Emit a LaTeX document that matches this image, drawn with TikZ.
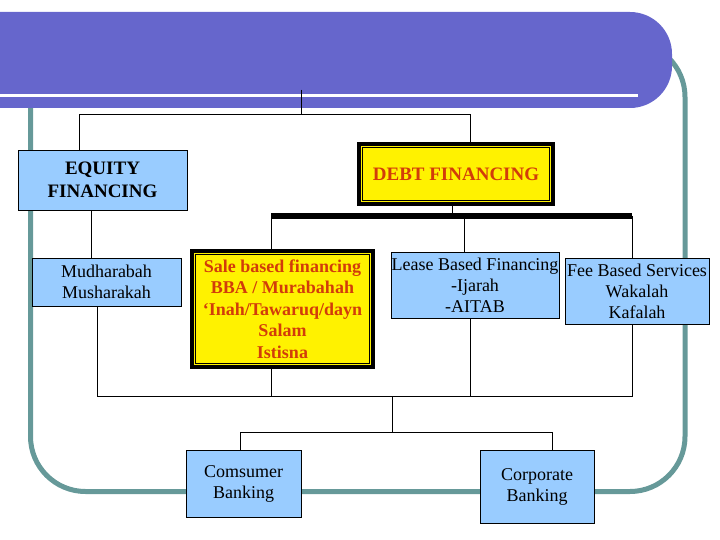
\documentclass[tikz,border=0pt]{standalone}
\usepackage{fontspec}
\setmainfont{Liberation Serif}
\usetikzlibrary{positioning}
\definecolor{bandblue}{RGB}{102,102,204}
\definecolor{frameteal}{RGB}{102,153,153}
\definecolor{boxblue}{RGB}{153,204,255}
\definecolor{textred}{RGB}{210,60,10}

\begin{document}
\begin{tikzpicture}[x=1pt, y=-1pt, font=\fontsize{18}{21}\selectfont,
  bluebox/.style={draw, fill=boxblue, line width=0.8pt, inner sep=0pt, align=center},
  yellowbox/.style={draw, fill=yellow, line width=4pt, inner sep=0pt, align=center, text=textred,
    font=\fontsize{18}{21.5}\selectfont\bfseries,
    path picture={\draw[line width=1pt] ([shift={(3.2pt,-3.2pt)}]path picture bounding box.north west)
      rectangle ([shift={(-3.2pt,3.2pt)}]path picture bounding box.south east);}},
  link/.style={line width=0.8pt}]
  \useasboundingbox (0,0) rectangle (720,540);
  \draw[frameteal, line width=5pt, rounded corners=55] (30.5,42) rectangle (685,491.5);
  \fill[bandblue, rounded corners=42] (-60,12) rectangle (672,108);
  \draw[white, line width=3pt] (-5,96) -- (638,96);

  \node[bluebox, minimum width=169pt, minimum height=60pt, font=\fontsize{19}{23}\selectfont\bfseries] (equity) at (102.5,180) {EQUITY\\FINANCING};
  \node[yellowbox, minimum width=194pt, minimum height=60pt, font=\fontsize{19}{23}\selectfont\bfseries] (debt) at (456,174) {DEBT FINANCING};
  \node[bluebox, minimum width=149pt, minimum height=48pt] (mudh) at (106.5,282) {Mudharabah\\Musharakah};
  \node[yellowbox, minimum width=181pt, minimum height=116pt] (sale) at (282.5,309) {Sale based financing\\BBA / Murabahah\\‘Inah/Tawaruq/dayn\\Salam\\Istisna};
  \node[bluebox, minimum width=168pt, minimum height=66pt] (lease) at (475,285) {Lease Based Financing\\-Ijarah\\-AITAB};
  \node[bluebox, minimum width=144pt, minimum height=66pt] (fee) at (637,291) {Fee Based Services\\Wakalah\\Kafalah};
  \node[bluebox, minimum width=115pt, minimum height=67pt] (cons) at (243.5,483.5) {Comsumer\\Banking};
  \node[bluebox, minimum width=114pt, minimum height=73pt] (corp) at (537,486.5) {Corporate\\Banking};

  \coordinate (root) at (301,90);
  \draw[link] (root) -- ++(0,24) -| ([xshift=-23.5pt]equity.north);
  \draw[link] (root) -- ++(0,24) -| ([xshift=14pt]debt.north);

  \coordinate (barL) at (271,216);
  \coordinate (barR) at (632,216);
  \draw[line width=6pt] (barL) -- (barR);
  \draw[link] ([xshift=-4pt]debt.south) -- ([xshift=-4pt]debt.south |- barL);
  \draw[link] (barL) -- ([xshift=-11.5pt]sale.north);
  \draw[link] ([xshift=-11pt]lease.north |- barL) -- ([xshift=-11pt]lease.north);
  \draw[link] (barR) -- ([xshift=-5pt]fee.north);
  \draw[link] ([xshift=-11.5pt]equity.south) -- ([xshift=-15.5pt]mudh.north);

  \coordinate (merge) at (392,396);
  \draw[link] ([xshift=-9.5pt]mudh.south) |- ([xshift=-5pt]fee.south |- merge) -- ([xshift=-5pt]fee.south);
  \draw[link] ([xshift=-11.5pt]sale.south) -- ([xshift=-11.5pt]sale.south |- merge);
  \draw[link] ([xshift=-5pt]lease.south) -- ([xshift=-5pt]lease.south |- merge);
  \draw[link] (merge) -- ++(0,36) -| ([xshift=-3.5pt]cons.north);
  \draw[link] (merge) -- ++(0,36) -| ([xshift=15pt]corp.north);
\end{tikzpicture}
\end{document}
